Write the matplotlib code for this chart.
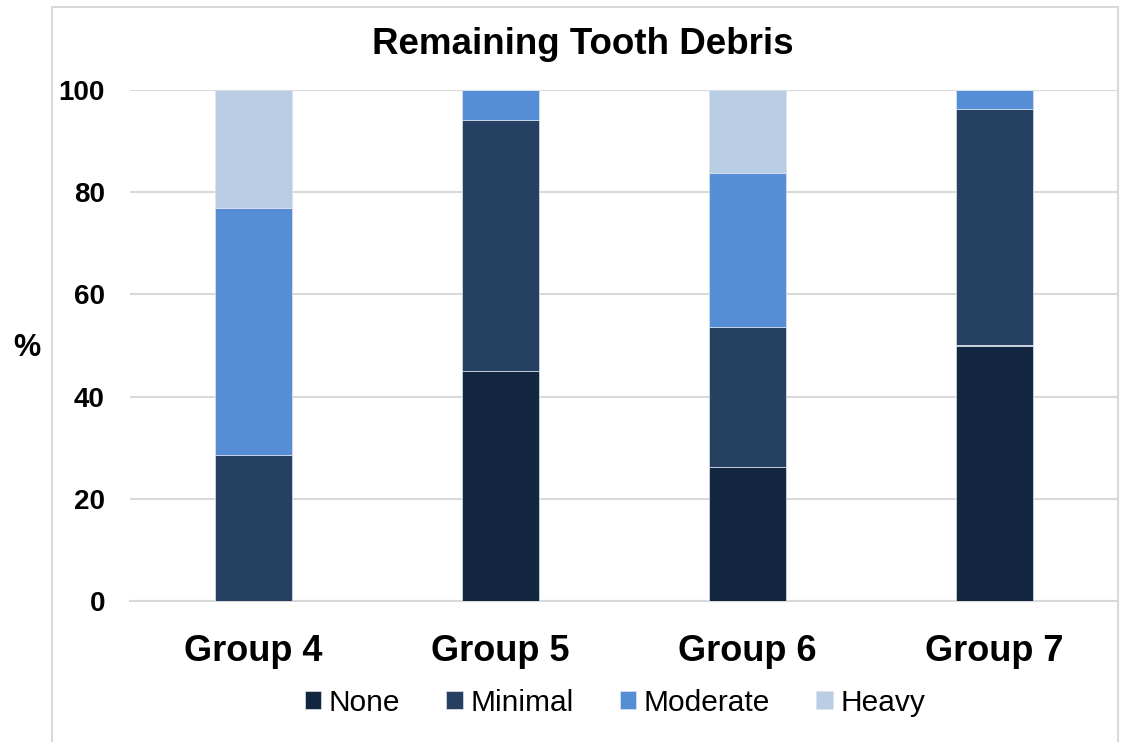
import numpy as np
import matplotlib.pyplot as plt
from matplotlib.patches import Rectangle

plt.rcParams['font.family'] = ['Liberation Sans', 'DejaVu Sans']

# Data
groups = ['Group 4', 'Group 5', 'Group 6', 'Group 7']
none = [0, 45, 26.2, 50]
minimal = [28.5, 49.1, 27.5, 46.2]
moderate = [48.4, 5.9, 30.1, 3.8]
heavy = [23.1, 0, 16.2, 0]

series = [('None', none, '#13263f'),
          ('Minimal', minimal, '#264061'),
          ('Moderate', moderate, '#558ed5'),
          ('Heavy', heavy, '#b9cde5')]

fig = plt.figure(figsize=(11.23, 7.42), dpi=100)
ax = fig.add_axes([130 / 1123, 1 - 601 / 742, (1118 - 130) / 1123, (601 - 90) / 742])

# outer chart border (cropped at bottom like the original)
fig.add_artist(Rectangle((52 / 1123, -0.05), (1118 - 52) / 1123, 1.05 - 7 / 742,
                         transform=fig.transFigure, fill=False,
                         edgecolor='#d9d9d9', linewidth=1.5))

x = np.arange(len(groups))
bottom = np.zeros(len(groups))
for name, vals, col in series:
    ax.bar(x, vals, width=0.31, bottom=bottom, color=col, label=name,
           edgecolor='#dce3ee', linewidth=0.5, zorder=3)
    bottom += np.array(vals)

ax.set_xlim(-0.5, 3.5)
ax.set_ylim(0, 100)
ax.set_yticks(range(0, 101, 20))
ax.yaxis.grid(True, color='#d9d9d9', linewidth=1.5, zorder=0)
ax.set_axisbelow(True)
for s in ['top', 'right', 'left']:
    ax.spines[s].set_visible(False)
ax.spines['bottom'].set_color('#d9d9d9')
ax.spines['bottom'].set_linewidth(1.5)
ax.tick_params(axis='both', length=0)
ax.tick_params(axis='y', pad=18)
ax.tick_params(axis='x', pad=24)
ax.set_xticks(x)
ax.set_xticklabels(groups, fontsize=26, fontweight='bold')
for lab in ax.get_yticklabels():
    lab.set_fontsize(20)
    lab.set_fontweight('bold')

fig.text(27 / 1123, 1 - 348 / 742, '%', fontsize=22, fontweight='bold',
         ha='center', va='center')
fig.text(583 / 1123, 1 - 44 / 742, 'Remaining Tooth Debris', fontsize=26.5,
         fontweight='bold', ha='center', va='center')

fig.legend(loc='center', bbox_to_anchor=(615 / 1123, 1 - 703 / 742), ncol=4,
           frameon=False, fontsize=21.5, handlelength=0.55, handleheight=0.55,
           handletextpad=0.25, columnspacing=1.55)

fig.savefig('out.png', dpi=100)
